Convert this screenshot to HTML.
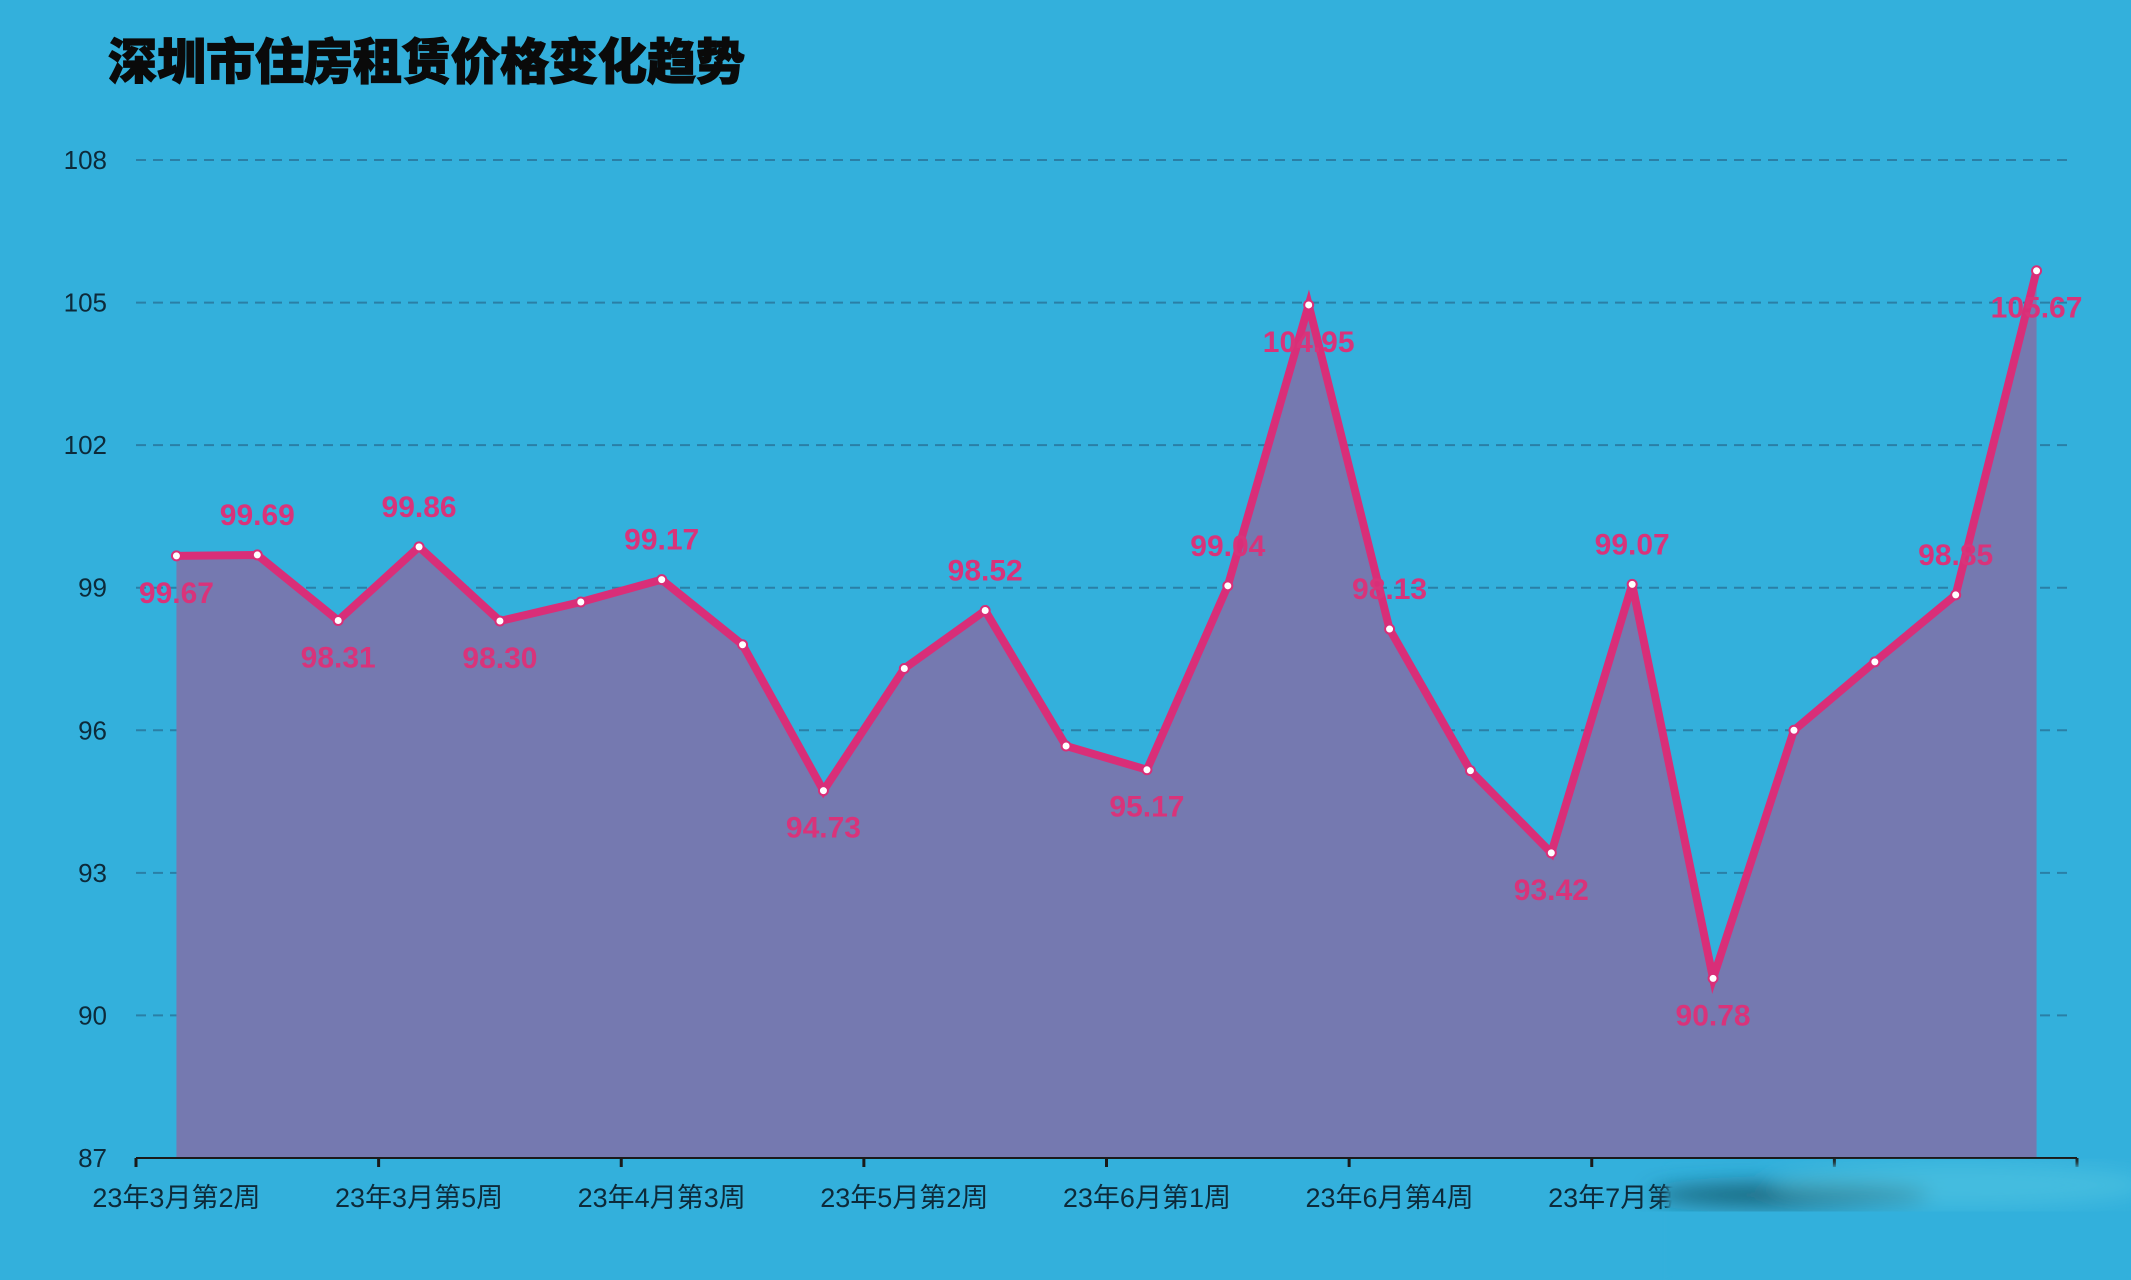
<!DOCTYPE html>
<html><head><meta charset="utf-8">
<style>
html,body{margin:0;padding:0;background:#33b0dc;}
svg{display:block;}
text{font-family:"Liberation Sans","Noto Sans CJK SC",sans-serif;}
</style></head>
<body>
<svg id="chart" width="2131" height="1280" viewBox="0 0 2131 1280" xmlns="http://www.w3.org/2000/svg">
<rect width="2131" height="1280" fill="#33b0dc"/>
<text x="108" y="79" font-size="49" font-weight="900" fill="#0a0a0a" stroke="#0a0a0a" stroke-width="1.2">深圳市住房租赁价格变化趋势</text>
<g id="grid"></g><g id="area"></g><g id="line"></g><g id="points"></g><g id="labels"></g><g id="axes"></g>
<defs><filter id="blur"><feGaussianBlur stdDeviation="10"/></filter><filter id="blur2"><feGaussianBlur stdDeviation="3"/></filter></defs>
<g>
<rect x="1668" y="1166" width="463" height="114" fill="#33b0dc" filter="url(#blur2)"/>
<g filter="url(#blur)">
<ellipse cx="1790" cy="1195" rx="140" ry="12" fill="#1d5566" opacity="0.8"/>
<ellipse cx="1960" cy="1185" rx="190" ry="22" fill="#5ccbe2" opacity="0.45"/>
</g>
</g>
</svg>
<script>
const categories=["23年3月第2周","23年3月第3周","23年3月第4周","23年3月第5周","23年4月第1周","23年4月第2周","23年4月第3周","23年4月第4周","23年5月第1周","23年5月第2周","23年5月第3周","23年5月第4周","23年6月第1周","23年6月第2周","23年6月第3周","23年6月第4周","23年7月第1周","23年7月第2周","23年7月第3周","23年7月第4周","23年8月第1周","23年8月第2周","23年8月第3周","23年8月第4周"];
const values=[99.67,99.69,98.31,99.86,98.30,98.7,99.17,97.8,94.73,97.3,98.52,95.67,95.17,99.04,104.95,98.13,95.15,93.42,99.07,90.78,96.0,97.44,98.85,105.67];
const labelPos=["below","above","below","above","below","","above","","below","","above","","below","above","below","above","","below","above","below","","","above","below"];
const yTicks=[87,90,93,96,99,102,105,108];
const xLabelIdx=[0,3,6,9,12,15,18];

const NS="http://www.w3.org/2000/svg";
const pLeft=136,pRight=2077,yMin=87,yMax=108,pTop=160,pBottom=1158;
const bw=(pRight-pLeft)/categories.length;
const X=i=>pLeft+bw*(i+0.5);
const Y=v=>pBottom-(v-yMin)/(yMax-yMin)*(pBottom-pTop);
function mk(tag,attrs,parent){const e=document.createElementNS(NS,tag);for(const k in attrs)e.setAttribute(k,attrs[k]);document.getElementById(parent).appendChild(e);return e;}

yTicks.forEach(t=>{
  const g=mk('line',{x1:pLeft,x2:2073,y1:Y(t),y2:Y(t),stroke:'#2a7fa6','stroke-width':2,'stroke-dasharray':'10 7'},'grid');
  
  
  const tx=mk('text',{x:107,y:Y(t)+9,'text-anchor':'end','font-size':26,fill:'#0d2a3a'},'axes');
  tx.textContent=t;
  
  
});
let d='M'+X(0)+','+Y(values[0]);
values.forEach((v,i)=>{if(i)d+=' L'+X(i)+','+Y(v);});
const ar=mk('path',{d:d+' L'+X(values.length-1)+','+pBottom+' L'+X(0)+','+pBottom+' Z',fill:'#7579b0'},'area');


const ln=mk('path',{d:d,fill:'none',stroke:'#d92e78','stroke-width':8,'stroke-linejoin':'miter'},'line');


values.forEach((v,i)=>{
  const c=mk('circle',{cx:X(i),cy:Y(v),r:4.5,fill:'#fff',stroke:'#d92e78','stroke-width':2},'points');
  
  
  if(labelPos[i]){
    const ty=labelPos[i]==='above'?Y(v)-30:Y(v)+47;
    const t=mk('text',{x:X(i),y:ty,'text-anchor':'middle','font-size':30,'font-weight':'bold',fill:'#d9337a'},'labels');
    t.textContent=v.toFixed(2);
    
    
  }
});
const ax=mk('line',{x1:pLeft,x2:pRight,y1:pBottom,y2:pBottom,stroke:'#1a1a1a','stroke-width':2},'axes');


for(let k=0;k<=categories.length;k+=3){
  const tk=mk('line',{x1:pLeft+bw*k,x2:pLeft+bw*k,y1:pBottom,y2:pBottom+9,stroke:'#1a1a1a','stroke-width':3},'axes');
  
  
}
xLabelIdx.forEach(i=>{
  const t=mk('text',{x:X(i),y:1207,'text-anchor':'middle','font-size':27,fill:'#0d2a3a'},'axes');
  t.textContent=categories[i];
  
  
});
</script>
</body></html>
